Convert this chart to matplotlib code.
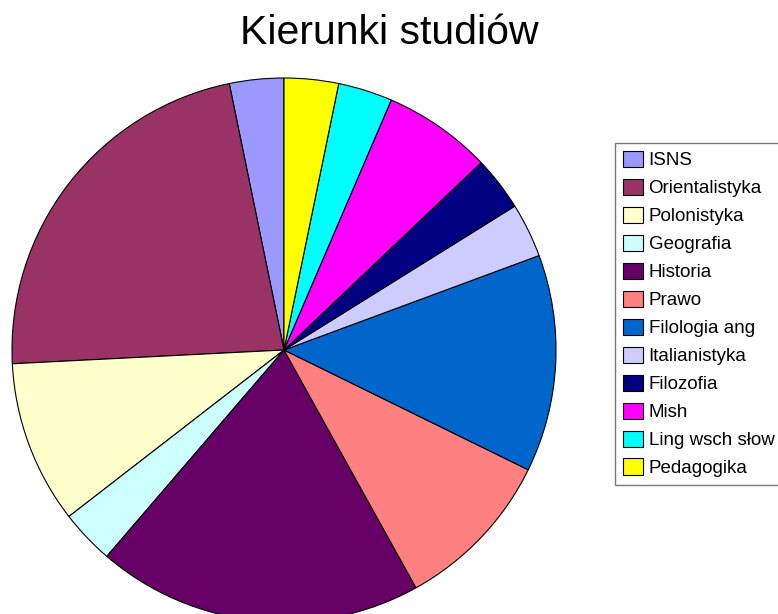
import matplotlib
matplotlib.use("Agg")
import matplotlib.pyplot as plt
from matplotlib.patches import Patch

plt.rcParams['font.family'] = ['Liberation Sans', 'DejaVu Sans']

# Dane
kierunki = ['ISNS', 'Orientalistyka', 'Polonistyka', 'Geografia', 'Historia', 'Prawo',
            'Filologia ang', 'Italianistyka', 'Filozofia', 'Mish', 'Ling wsch słow', 'Pedagogika']
liczba = [1, 7, 3, 1, 6, 3, 4, 1, 1, 2, 1, 1]
kolory = ['#9999FF', '#993366', '#FFFFCC', '#CCFFFF', '#660066', '#FF8080',
          '#0066CC', '#CCCCFF', '#000080', '#FF00FF', '#00FFFF', '#FFFF00']

W, H = 778, 614
fig = plt.figure(figsize=(W / 100, H / 100), dpi=100)

# Kolo: srodek (284, 350), promien 272 px
cx, cy, r = 284, 350, 272
ax = fig.add_axes([(cx - r) / W, (H - cy - r) / H, 2 * r / W, 2 * r / H])
ax.pie(liczba, colors=kolory, startangle=90, counterclock=True, radius=1,
       wedgeprops=dict(edgecolor='black', linewidth=0.8))
ax.set_xlim(-1, 1)
ax.set_ylim(-1, 1)
ax.set_aspect('equal')
ax.axis('off')

fig.text(389 / W, (H - 44) / H, 'Kierunki studiów', ha='center', va='baseline', fontsize=29.5)

uchwyty = [Patch(facecolor=c, edgecolor='black', linewidth=0.8) for c in kolory]
leg = fig.legend(uchwyty, kierunki, loc='upper left', bbox_to_anchor=(615 / W, (H - 143) / H),
                 fontsize=13.5, frameon=True, fancybox=False, edgecolor='#555555',
                 handlelength=1.07, handleheight=0.96, handletextpad=0.3,
                 labelspacing=0.5, borderpad=0.42, borderaxespad=0)
leg.get_frame().set_linewidth(1.0)

fig.savefig('out.png', dpi=100)
